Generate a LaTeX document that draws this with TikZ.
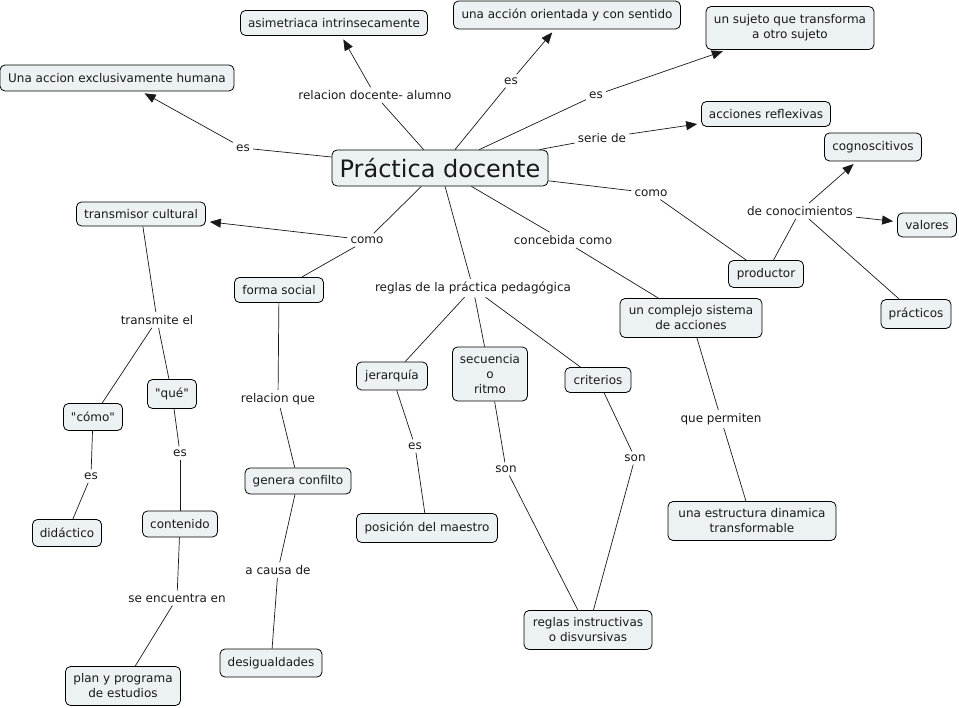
\documentclass[tikz,border=0pt]{standalone}
\usepackage{fontspec}
\setmainfont[Ligatures=TeXOff]{DejaVu Sans}
\usetikzlibrary{arrows.meta}
\definecolor{cfill}{RGB}{236,242,244}
\definecolor{lcol}{RGB}{25,25,25}
\newcommand{\dq}{\symbol{34}}
\begin{document}
\begin{tikzpicture}[x=1pt,y=-1pt,
  concept/.style={draw=black, line width=0.8pt, rounded corners=5pt, fill=cfill, align=center, inner sep=2pt, text=black!90, font=\fontsize{12}{15}\selectfont},
  sz/.style 2 args={minimum width=#1pt, minimum height=#2pt},
  link/.style={inner sep=3pt, text=black!90, font=\fontsize{12}{15}\selectfont},
  con/.style={draw=lcol, line width=0.7pt},
  arr/.style={con, -{Triangle[length=11pt,width=9pt]}, shorten >=4pt}]
\useasboundingbox (0,0) rectangle (959,708);
% concepts
\node[concept, sz={216}{36}, font=\fontsize{24}{28}\selectfont] (pd) at (440,168) {Práctica docente};
\node[concept, sz={187}{25}] (asim) at (334,23) {asimetriaca intrinsecamente};
\node[concept, sz={227}{28}] (orient) at (567,15) {una acción orientada y con sentido};
\node[concept, sz={168}{43}] (sujeto) at (790,28) {un sujeto que transforma\\a otro sujeto};
\node[concept, sz={234}{26}] (humana) at (117,78) {Una accion exclusivamente humana};
\node[concept, sz={129}{25}] (reflex) at (766,114) {acciones reflexivas};
\node[concept, sz={97}{28}] (cognos) at (873,147) {cognoscitivos};
\node[concept, sz={59}{24}] (valores) at (927,225) {valores};
\node[concept, sz={75}{27}] (productor) at (766,274) {productor};
\node[concept, sz={70}{29}] (practicos) at (916,314) {prácticos};
\node[concept, sz={129}{24}] (transmisor) at (141,214) {transmisor cultural};
\node[concept, sz={89}{25}] (forma) at (279,290) {forma social};
\node[concept, sz={142}{39}] (complejo) at (691,318) {un complejo sistema\\de acciones};
\node[concept, sz={71}{28}] (jerarquia) at (392,376) {jerarquía};
\node[concept, sz={75}{54}] (secuencia) at (490,374) {secuencia\\o\\ritmo};
\node[concept, sz={66}{25}] (criterios) at (598,380) {criterios};
\node[concept, sz={49}{29}] (que) at (172,394) {\dq qué\dq};
\node[concept, sz={59}{27}] (comoq) at (93,417) {\dq cómo\dq};
\node[concept, sz={69}{27}] (didactico) at (67,533) {didáctico};
\node[concept, sz={75}{26}] (contenido) at (180,524) {contenido};
\node[concept, sz={106}{26}] (genera) at (298,481) {genera confilto};
\node[concept, sz={141}{29}] (posicion) at (427,528) {posición del maestro};
\node[concept, sz={102}{28}] (desig) at (271,663) {desigualdades};
\node[concept, sz={115}{39}] (plan) at (123,686) {plan y programa\\de estudios};
\node[concept, sz={128}{39}] (reglas) at (588,630) {reglas instructivas\\o disvursivas};
\node[concept, sz={168}{39}] (estructura) at (752,521) {una estructura dinamica\\transformable};
% linking phrases
\node[link] (l1) at (243,148) {es};
\node[link] (l2) at (375,95) {relacion docente- alumno};
\node[link] (l3) at (511,81) {es};
\node[link] (l4) at (596,95) {es};
\node[link] (l5) at (602,138) {serie de};
\node[link] (l6) at (651,193) {como};
\node[link] (l7) at (800,211) {de conocimientos};
\node[link] (l8) at (367,240) {como};
\node[link] (l9) at (473,288) {reglas de la práctica pedagógica};
\node[link] (l10) at (563,240) {concebida como};
\node[link] (l11) at (157,320) {transmite el};
\node[link] (l12) at (278,399) {relacion que};
\node[link] (l13) at (91,476) {es};
\node[link] (l14) at (180,453) {es};
\node[link] (l15) at (415,446) {es};
\node[link] (l16) at (506,469) {son};
\node[link] (l17) at (635,458) {son};
\node[link] (l18) at (721,419) {que permiten};
\node[link] (l19) at (278,570) {a causa de};
\node[link] (l20) at (177,598) {se encuentra en};
% connectors
\draw[con] (pd) -- (l1); \draw[arr] (l1) -- (humana);
\draw[con] (pd) -- (l2); \draw[arr] (l2) -- (asim);
\draw[con] (pd) -- (l3); \draw[arr] (l3) -- (orient);
\draw[con] (pd) -- (l4); \draw[arr] (l4) -- (sujeto);
\draw[con] (pd) -- (l5); \draw[arr] (l5) -- (reflex);
\draw[con] (pd) -- (l6); \draw[con] (l6) -- (productor);
\draw[con] (productor) -- (l7);
\draw[arr] (l7) -- (cognos);
\draw[arr] (l7) -- (valores);
\draw[con] (l7) -- (practicos);
\draw[con] (pd) -- (l8); \draw[arr] (l8) -- (transmisor); \draw[con] (l8) -- (forma);
\draw[con] (pd) -- (l9);
\draw[con] (l9) -- (jerarquia); \draw[con] (l9) -- (secuencia); \draw[con] (l9) -- (criterios);
\draw[con] (pd) -- (l10); \draw[con] (l10) -- (complejo);
\draw[con] (transmisor) -- (l11); \draw[con] (l11) -- (comoq); \draw[con] (l11) -- (que);
\draw[con] (forma) -- (l12); \draw[con] (l12) -- (genera);
\draw[con] (comoq) -- (l13); \draw[con] (l13) -- (didactico);
\draw[con] (que) -- (l14); \draw[con] (l14) -- (contenido);
\draw[con] (jerarquia) -- (l15); \draw[con] (l15) -- (posicion);
\draw[con] (secuencia) -- (l16); \draw[con] (l16) -- (reglas);
\draw[con] (criterios) -- (l17); \draw[con] (l17) -- (reglas);
\draw[con] (complejo) -- (l18); \draw[con] (l18) -- (estructura);
\draw[con] (genera) -- (l19); \draw[con] (l19) -- (desig);
\draw[con] (contenido) -- (l20); \draw[con] (l20) -- (plan);
\end{tikzpicture}
\end{document}
